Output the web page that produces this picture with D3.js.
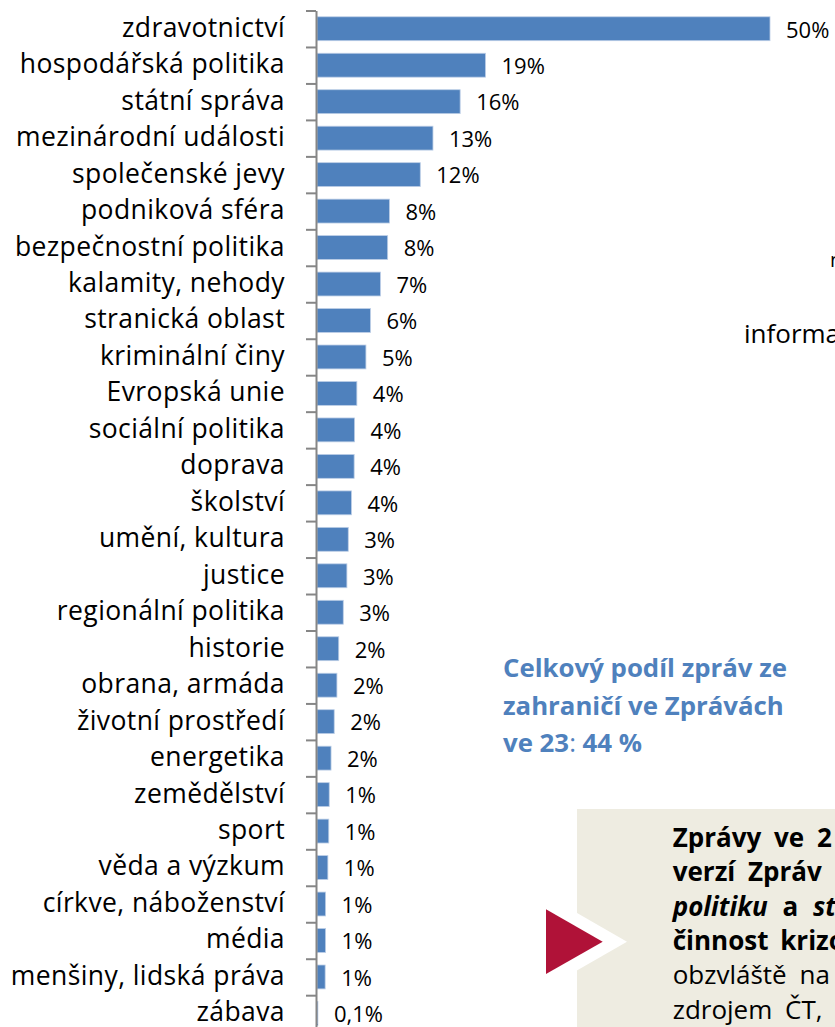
<!DOCTYPE html>
<html>
<head>
<meta charset="utf-8">
<script src="https://cdn.jsdelivr.net/npm/d3@7"></script>
<style>
  html, body { margin: 0; padding: 0; background: #fff; }
  svg { display: block; }
</style>
</head>
<body>
<div id="chart"></div>
<script>
const categories = [
  "zdravotnictví", "hospodářská politika", "státní správa", "mezinárodní události",
  "společenské jevy", "podniková sféra", "bezpečnostní politika", "kalamity, nehody",
  "stranická oblast", "kriminální činy", "Evropská unie", "sociální politika",
  "doprava", "školství", "umění, kultura", "justice", "regionální politika",
  "historie", "obrana, armáda", "životní prostředí", "energetika", "zemědělství",
  "sport", "věda a výzkum", "církve, náboženství", "média", "menšiny, lidská práva", "zábava"
];
const values = [
  50, 18.6, 15.8, 12.8, 11.4, 8.0, 7.8, 7.0, 5.9, 5.4, 4.4, 4.15, 4.1, 3.8, 3.45,
  3.3, 2.9, 2.4, 2.2, 1.9, 1.55, 1.35, 1.3, 1.2, 0.95, 0.95, 0.9, 0.1
];
const valueLabels = [
  "50%", "19%", "16%", "13%", "12%", "8%", "8%", "7%", "6%", "5%", "4%", "4%",
  "4%", "4%", "3%", "3%", "3%", "2%", "2%", "2%", "2%", "1%", "1%", "1%", "1%",
  "1%", "1%", "0,1%"
];
const noteLines = ["Celkový podíl zpráv ze", "zahraničí ve Zprávách"];
const boxLines = [
  {t: "Zprávy ve 2", w: "bold", ws: 6},
  {t: "verzí Zpráv", w: "bold", ws: 6},
  {t: null, w: "bold", ws: 8},
  {t: "činnost krizo", w: "bold", ws: 5},
  {t: "obzvláště na", w: "normal", ws: 6},
  {t: "zdrojem ČT,", w: "normal", ws: 6}
];

const W = 835, H = 1027;
const FONT = "'Open Sans', 'Noto Sans', sans-serif";
const svg = d3.select("#chart").append("svg")
  .attr("width", W).attr("height", H)
  .style("font-family", FONT);
svg.append("rect").attr("width", W).attr("height", H).attr("fill", "#fff");

const axisX = 316;
const topY = 10.5, step = 36.47;
const y = d3.scaleBand().domain(categories)
  .range([topY, topY + step * categories.length])
  .paddingInner(0.345).paddingOuter(0.1725);
const x = d3.scaleLinear().domain([0, 50]).range([axisX + 1, 770]);

// bars
svg.append("g").selectAll("rect").data(categories).join("rect")
  .attr("x", x(0))
  .attr("y", d => y(d))
  .attr("width", (d, i) => Math.max(0, x(values[i]) - x(0)))
  .attr("height", y.bandwidth())
  .attr("fill", "#4f81bd")
  .attr("stroke", "#bccee6")
  .attr("stroke-width", 0.8);

// axis ticks at band boundaries
const yIdx = d3.scaleLinear().domain([0, categories.length]).range([topY, topY + step * categories.length]);
const tickAxis = svg.append("g").attr("transform", `translate(${axisX},0)`)
  .call(d3.axisLeft(yIdx).tickValues(d3.range(categories.length + 1)).tickSize(10).tickSizeOuter(0).tickFormat(""));
tickAxis.selectAll("line").attr("stroke", "#868686").attr("stroke-width", 2);
tickAxis.select(".domain").attr("stroke", "#868686").attr("stroke-width", 2);

// category labels
const labAxis = svg.append("g").attr("transform", `translate(${axisX},0)`)
  .call(d3.axisLeft(y).tickSize(0).tickPadding(31));
labAxis.select(".domain").remove();
labAxis.selectAll("text")
  .attr("font-family", FONT).attr("font-size", 26.5).attr("letter-spacing", 0.4)
  .attr("fill", "#000")
  .attr("dy", "0.3em");

// value labels
svg.append("g").selectAll("text").data(categories).join("text")
  .attr("x", (d, i) => x(values[i]) + 16)
  .attr("y", d => y(d) + y.bandwidth() / 2)
  .attr("dy", "0.4em")
  .attr("font-size", 22)
  .attr("fill", "#000")
  .text((d, i) => valueLabels[i]);

// cropped side texts
svg.append("text").attr("x", 830).attr("y", 267).attr("font-size", 20).attr("fill", "#000").text("n");
svg.append("text").attr("x", 744).attr("y", 343).attr("font-size", 26).attr("fill", "#000").text("informa");

// blue note
const note = svg.append("g").attr("fill", "#4f81bd").attr("font-size", 25.8).attr("font-weight", "bold");
noteLines.forEach((l, i) => {
  note.append("text").attr("x", 503).attr("y", 677 + i * 37.5).text(l);
});
const l3 = note.append("text").attr("x", 503).attr("y", 677 + 2 * 37.5);
l3.append("tspan").text("ve 23");
l3.append("tspan").attr("font-weight", "normal").text(":");
l3.append("tspan").text(" 44 %");

// beige box
svg.append("rect").attr("x", 577).attr("y", 809).attr("width", 300).attr("height", 260).attr("fill", "#eeece1");
// white chevron & red triangle
svg.append("polygon").attr("points", "500,868.7 500,1014.7 627,941.7").attr("fill", "#fff");
svg.append("polygon").attr("points", "546,909.3 546,974 602.7,941.7").attr("fill", "#b01238");

// box text
const bt = svg.append("g").attr("fill", "#000").attr("font-size", 26);
boxLines.forEach((l, i) => {
  const t = bt.append("text").attr("x", 672.7).attr("y", 847 + i * 34.3)
    .attr("font-weight", l.w).attr("word-spacing", l.ws);
  if (l.t) t.text(l.t);
  else {
    t.append("tspan").attr("font-style", "italic").text("politiku");
    t.append("tspan").text(" a ");
    t.append("tspan").attr("font-style", "italic").text("st");
  }
});
</script>
</body>
</html>
